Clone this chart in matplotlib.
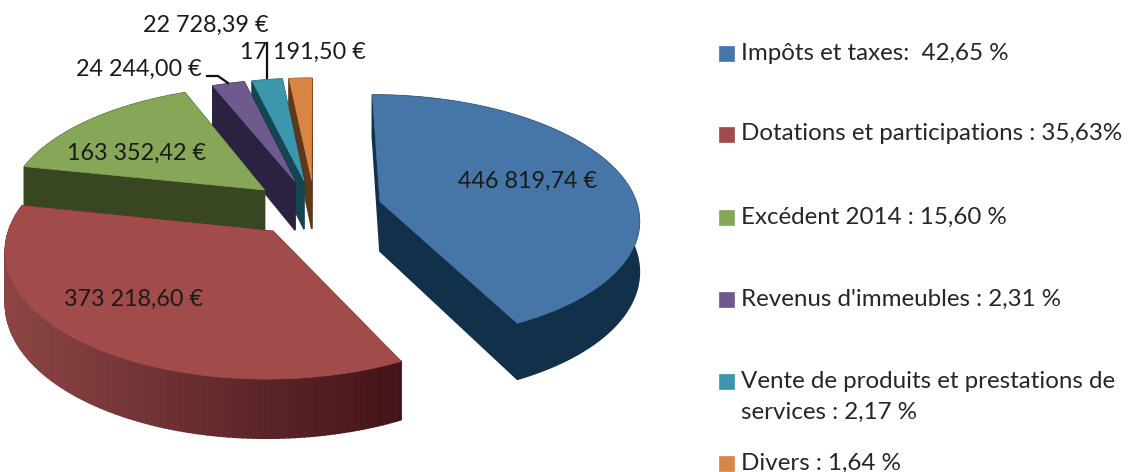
import numpy as np
import matplotlib
matplotlib.use('Agg')
import matplotlib.pyplot as plt
from matplotlib.patches import Polygon, Rectangle

plt.rcParams['font.family'] = ['Lato', 'DejaVu Sans']

# Données
values = [446819.74, 373218.60, 163352.42, 24244.00, 22728.39, 17191.50]
value_labels = ['446 819,74 €', '373 218,60 €', '163 352,42 €',
                '24 244,00 €', '22 728,39 €', '17 191,50 €']
legend_labels = ['Impôts et taxes:  42,65 %',
                 'Dotations et participations : 35,63%',
                 'Excédent 2014 : 15,60 %',
                 "Revenus d'immeubles : 2,31 %",
                 'Vente de produits et prestations de\nservices : 2,17 %',
                 'Divers : 1,64 %']

top_colors = ['#4675A8', '#A14B4A', '#86A658', '#6F5A90', '#3D97AC', '#D98645']
side_colors = ['#13304A', '#6A2C2E', '#384721', '#2A2240', '#154550', '#5E3818']
red_wall = ('#8C4544', '#43141A')

# Géométrie du camembert 3D (pixels)
CX, CY = 315, 208
RX, RY = 258, 122
PERSP = 0.13
DEPTH = 50
EXPLODE_X, EXPLODE_Y = 0.26, 0.235

label_pos = [(528, 181), (134, 299), (137, 153), (139, 69), (206, 25), (303, 52)]
legend_y = [53, 134, 217, 299, 381, 463]
LINE_STEP = 31


def project(X, Y):
    w = 1 + PERSP * Y
    return CX + RX * X / w, CY - RY * Y / w, DEPTH / w


def hex_mix(c1, c2, t):
    a = np.array(matplotlib.colors.to_rgb(c1))
    b = np.array(matplotlib.colors.to_rgb(c2))
    return tuple(a + (b - a) * t)


def draw_slice(ax, start, end, top, side, gradient=None):
    mid = (start + end) / 2
    ox, oy = EXPLODE_X * np.sin(mid), EXPLODE_Y * np.cos(mid)
    th = np.linspace(start, end, max(int((end - start) * 60), 6))
    x, y, d = project(ox + np.sin(th), oy + np.cos(th))
    ax_, ay_, ad = project(ox, oy)

    # faces radiales
    for i in (0, -1):
        quad = [(ax_, ay_), (x[i], y[i]), (x[i], y[i] + d[i]), (ax_, ay_ + ad)]
        ax.add_patch(Polygon(quad, closed=True, fc=side, ec=side, lw=1))

    # paroi extérieure
    if gradient is None:
        wall = np.vstack([np.column_stack([x, y]), np.column_stack([x, y + d])[::-1]])
        ax.add_patch(Polygon(wall, closed=True, fc=side, ec=side, lw=1))
    else:
        for i in range(len(th) - 1):
            color = hex_mix(gradient[0], gradient[1], (x[i] - x.min()) / (x.max() - x.min()))
            quad = [(x[i], y[i]), (x[i + 1], y[i + 1]),
                    (x[i + 1], y[i + 1] + d[i + 1]), (x[i], y[i] + d[i])]
            ax.add_patch(Polygon(quad, closed=True, fc=color, ec=color, lw=1.2))

    # dessus
    pts = np.vstack([[ax_, ay_], np.column_stack([x, y])])
    ax.add_patch(Polygon(pts, closed=True, fc=top, ec=top, lw=0.5))


fig = plt.figure(figsize=(11.28, 4.72), dpi=100)
ax = fig.add_axes([0, 0, 1, 1])
ax.set_xlim(0, 1128)
ax.set_ylim(472, 0)
ax.axis('off')

fractions = np.array(values) / sum(values)
edges = np.concatenate([[0], np.cumsum(fractions)]) * 2 * np.pi

# de l'arrière vers l'avant
for i in [0, 5, 4, 3, 2, 1]:
    draw_slice(ax, edges[i], edges[i + 1], top_colors[i], side_colors[i],
               gradient=red_wall if i == 1 else None)

for text, (x, y) in zip(value_labels, label_pos):
    ax.text(x, y, text, ha='center', va='center', fontsize=16.8, color='#1A1A1A')

# traits de rappel
ax.plot([207, 218, 228], [76, 76, 83], color='#111111', lw=1.6)
ax.plot([267, 267], [43, 78], color='#111111', lw=1.6)

# légende
for text, y, color in zip(legend_labels, legend_y, top_colors):
    ax.add_patch(Rectangle((719, y - 7.5), 15, 15, fc=color, ec=color, lw=0.5))
    for k, line in enumerate(text.split('\n')):
        ax.text(741, y + k * LINE_STEP, line, ha='left', va='center',
                fontsize=17.4, color='#262626')

fig.savefig('out.png', dpi=100)
